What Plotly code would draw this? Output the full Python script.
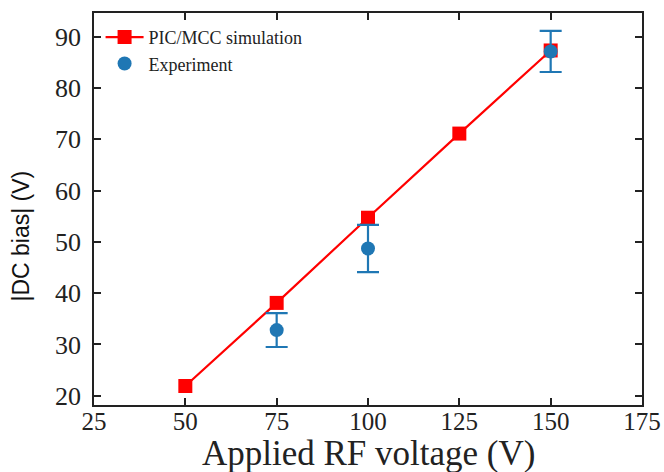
import plotly.graph_objects as go

sim_x = [50, 75, 100, 125, 150]
sim_y = [21.9, 38.1, 54.7, 71.1, 87.3]
exp_x = [75, 100, 150]
exp_y = [32.8, 48.7, 87.1]
exp_err = [3.3, 4.6, 4.0]
x_ticks = [25, 50, 75, 100, 125, 150, 175]
y_ticks = [20, 30, 40, 50, 60, 70, 80, 90]

fig = go.Figure()
fig.add_trace(go.Scatter(
    x=sim_x, y=sim_y, mode="lines+markers", name="PIC/MCC simulation",
    line=dict(color="#ff0000", width=2.2),
    marker=dict(symbol="square", size=14, color="#ff0000"),
))
fig.add_trace(go.Scatter(
    x=exp_x, y=exp_y, mode="markers", name="Experiment",
    marker=dict(symbol="circle", size=14, color="#1f77b4"),
    error_y=dict(type="data", array=exp_err, visible=True, color="#1f77b4",
                 thickness=2.2, width=11),
))

axis_common = dict(
    showline=True, linecolor="#222", linewidth=1.5, mirror="ticks",
    ticks="inside", ticklen=7, tickwidth=1.5, tickcolor="#222",
    showgrid=False, zeroline=False, automargin=False,
    tickfont=dict(family="Liberation Serif", size=25, color="#222"),
)
fig.update_xaxes(range=[25, 175], tickvals=x_ticks, ticklabelstandoff=-7, **axis_common)
fig.update_yaxes(range=[18.2, 94.6], tickvals=y_ticks, ticklabelstandoff=6,
                 tickfont=dict(family="Liberation Serif", size=26, color="#222"),
                 **{k: v for k, v in axis_common.items() if k != "tickfont"})

fig.update_layout(
    width=664, height=472,
    margin=dict(l=94, r=22, t=13, b=67),
    paper_bgcolor="white", plot_bgcolor="white",
    showlegend=True,
    legend=dict(x=0.012, y=0.985, xanchor="left", yanchor="top",
                bgcolor="rgba(0,0,0,0)",
                font=dict(family="Liberation Serif", size=18, color="#222"),
                tracegroupgap=0, itemwidth=38),
    annotations=[
        dict(text="Applied RF voltage (V)", xref="paper", yref="paper",
             x=0.5, y=-0.176, xanchor="center", yanchor="bottom", showarrow=False,
             borderpad=0,
             font=dict(family="Liberation Serif", size=35, color="#222")),
        dict(text="|DC bias| (V)", xref="paper", yref="paper",
             x=-0.133, y=0.43, xanchor="center", yanchor="middle", showarrow=False,
             textangle=-90,
             font=dict(family="Liberation Sans", size=23, color="#111")),
    ],
)

fig.write_html("out.html")
